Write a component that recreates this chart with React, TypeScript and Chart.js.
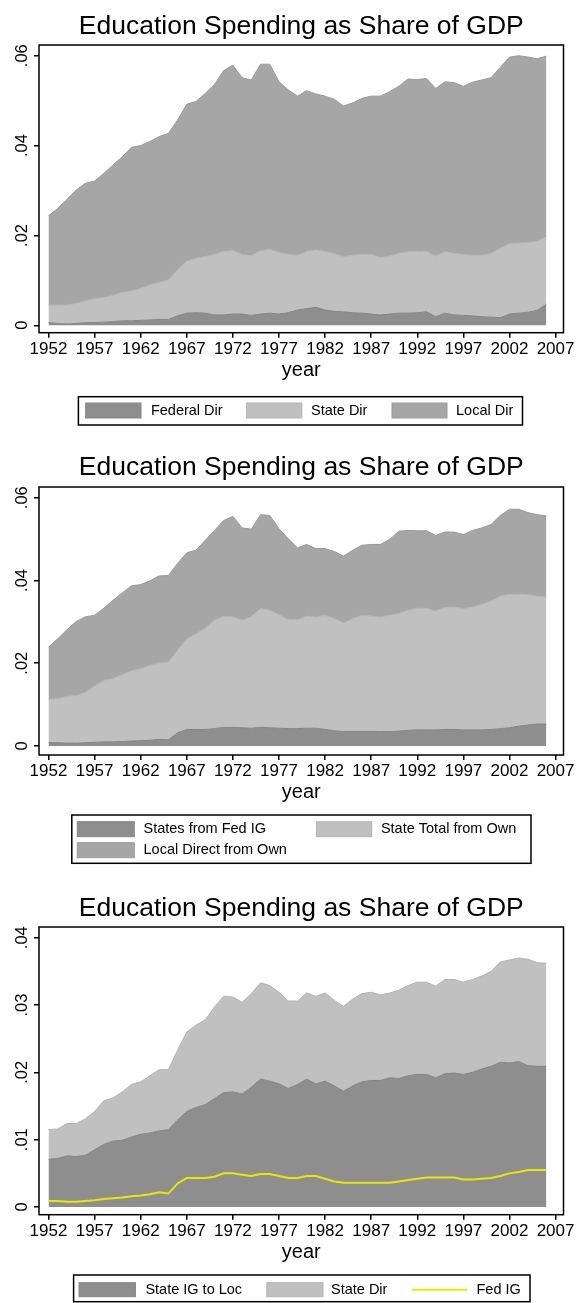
import React, { useEffect, useRef } from 'react';
import { Chart, registerables } from 'chart.js';

Chart.register(...registerables);

// ---------------- DATA ----------------
const years = [
  1952, 1953, 1954, 1955, 1956, 1957, 1958, 1959, 1960, 1961,
  1962, 1963, 1964, 1965, 1966, 1967, 1968, 1969, 1970, 1971,
  1972, 1973, 1974, 1975, 1976, 1977, 1978, 1979, 1980, 1981,
  1982, 1983, 1984, 1985, 1986, 1987, 1988, 1989, 1990, 1991,
  1992, 1993, 1994, 1995, 1996, 1997, 1998, 1999, 2000, 2001,
  2002, 2003, 2004, 2005, 2006,
];
const xTickLabels = [1952, 1957, 1962, 1967, 1972, 1977, 1982, 1987, 1992, 1997, 2002, 2007];
const yTicksTop = [0, 0.02, 0.04, 0.06];
const yTicksBottom = [0, 0.01, 0.02, 0.03, 0.04];

const chartTitle = 'Education Spending as Share of GDP';
const xAxisTitle = 'year';

// Chart 1
const federalDir = [
  0.0006, 0.0004, 0.0003, 0.0004, 0.0006, 0.0006, 0.0007, 0.0008, 0.0010, 0.0010,
  0.0011, 0.0012, 0.0013, 0.0013, 0.0021, 0.0027, 0.0028, 0.0027, 0.0023, 0.0023,
  0.0025, 0.0025, 0.0022, 0.0025, 0.0027, 0.0025, 0.0028, 0.0034, 0.0037, 0.0040,
  0.0034, 0.0031, 0.0030, 0.0028, 0.0027, 0.0025, 0.0023, 0.0025, 0.0027, 0.0027,
  0.0028, 0.0030, 0.0019, 0.0027, 0.0023, 0.0022, 0.0021, 0.0019, 0.0018, 0.0017,
  0.0025, 0.0027, 0.0029, 0.0033, 0.0047,
];
const stateDir = [
  0.0039, 0.0041, 0.0042, 0.0045, 0.0048, 0.0053, 0.0055, 0.0059, 0.0063, 0.0067,
  0.0071, 0.0078, 0.0082, 0.0088, 0.0102, 0.0116, 0.0121, 0.0126, 0.0135, 0.0142,
  0.0141, 0.0133, 0.0133, 0.0141, 0.0142, 0.0137, 0.0130, 0.0122, 0.0127, 0.0128,
  0.0130, 0.0128, 0.0123, 0.0128, 0.0131, 0.0133, 0.0128, 0.0129, 0.0133, 0.0137,
  0.0136, 0.0135, 0.0135, 0.0137, 0.0137, 0.0136, 0.0135, 0.0137, 0.0142, 0.0154,
  0.0157, 0.0156, 0.0155, 0.0154, 0.0150,
];
const localDir = [
  0.0199, 0.0215, 0.0235, 0.0252, 0.0262, 0.0262, 0.0276, 0.0290, 0.0302, 0.0319,
  0.0318, 0.0319, 0.0325, 0.0326, 0.0334, 0.0349, 0.0349, 0.0363, 0.0378, 0.0402,
  0.0413, 0.0393, 0.0391, 0.0415, 0.0412, 0.0380, 0.0366, 0.0354, 0.0358, 0.0347,
  0.0346, 0.0344, 0.0335, 0.0339, 0.0347, 0.0352, 0.0359, 0.0366, 0.0372, 0.0384,
  0.0383, 0.0384, 0.0373, 0.0378, 0.0380, 0.0374, 0.0385, 0.0390, 0.0391, 0.0403,
  0.0415, 0.0417, 0.0413, 0.0406, 0.0402,
];

// Chart 2
const statesFromFedIG = [
  0.0008, 0.0008, 0.0007, 0.0007, 0.0008, 0.0009, 0.0010, 0.0010, 0.0011, 0.0012,
  0.0013, 0.0014, 0.0016, 0.0015, 0.0032, 0.0040, 0.0040, 0.0040, 0.0042, 0.0045,
  0.0045, 0.0044, 0.0043, 0.0045, 0.0044, 0.0043, 0.0042, 0.0042, 0.0043, 0.0043,
  0.0040, 0.0037, 0.0035, 0.0035, 0.0035, 0.0035, 0.0035, 0.0035, 0.0036, 0.0038,
  0.0039, 0.0039, 0.0039, 0.0040, 0.0040, 0.0039, 0.0039, 0.0039, 0.0040, 0.0042,
  0.0044, 0.0048, 0.0051, 0.0053, 0.0053,
];
const stateTotalFromOwn = [
  0.0105, 0.0106, 0.0113, 0.0115, 0.0122, 0.0136, 0.0149, 0.0153, 0.0161, 0.0170,
  0.0174, 0.0181, 0.0185, 0.0188, 0.0199, 0.0219, 0.0231, 0.0245, 0.0262, 0.0268,
  0.0267, 0.0260, 0.0269, 0.0287, 0.0284, 0.0274, 0.0264, 0.0263, 0.0271, 0.0269,
  0.0276, 0.0271, 0.0262, 0.0273, 0.0281, 0.0279, 0.0277, 0.0281, 0.0284, 0.0290,
  0.0294, 0.0294, 0.0287, 0.0295, 0.0296, 0.0293, 0.0297, 0.0303, 0.0310, 0.0320,
  0.0323, 0.0319, 0.0315, 0.0309, 0.0307,
];
const localDirectFromOwn = [
  0.0126, 0.0145, 0.0161, 0.0179, 0.0182, 0.0171, 0.0174, 0.0189, 0.0198, 0.0205,
  0.0203, 0.0204, 0.0210, 0.0209, 0.0210, 0.0208, 0.0202, 0.0212, 0.0217, 0.0232,
  0.0243, 0.0223, 0.0212, 0.0227, 0.0229, 0.0208, 0.0195, 0.0174, 0.0173, 0.0165,
  0.0161, 0.0162, 0.0162, 0.0165, 0.0169, 0.0173, 0.0175, 0.0183, 0.0199, 0.0193,
  0.0187, 0.0187, 0.0183, 0.0182, 0.0181, 0.0179, 0.0185, 0.0185, 0.0185, 0.0195,
  0.0205, 0.0205, 0.0198, 0.0197, 0.0196,
];

// Chart 3
const stateIGtoLoc = [
  0.0071, 0.0072, 0.0076, 0.0075, 0.0077, 0.0085, 0.0093, 0.0098, 0.0099, 0.0104,
  0.0108, 0.0110, 0.0113, 0.0115, 0.0129, 0.0142, 0.0148, 0.0152, 0.0161, 0.0170,
  0.0171, 0.0168, 0.0178, 0.0190, 0.0187, 0.0183, 0.0176, 0.0182, 0.0190, 0.0183,
  0.0187, 0.0180, 0.0172, 0.0180, 0.0186, 0.0188, 0.0188, 0.0192, 0.0191, 0.0195,
  0.0197, 0.0197, 0.0192, 0.0198, 0.0199, 0.0197, 0.0200, 0.0205, 0.0209, 0.0215,
  0.0214, 0.0216, 0.0210, 0.0209, 0.0209,
];
const stateDirB = [
  0.0044, 0.0044, 0.0048, 0.0049, 0.0054, 0.0057, 0.0065, 0.0064, 0.0072, 0.0078,
  0.0078, 0.0085, 0.0091, 0.0089, 0.0104, 0.0118, 0.0122, 0.0126, 0.0136, 0.0143,
  0.0141, 0.0136, 0.0139, 0.0143, 0.0142, 0.0136, 0.0130, 0.0124, 0.0128, 0.0130,
  0.0131, 0.0127, 0.0126, 0.0129, 0.0131, 0.0131, 0.0127, 0.0126, 0.0131, 0.0134,
  0.0137, 0.0137, 0.0136, 0.0140, 0.0139, 0.0137, 0.0138, 0.0138, 0.0141, 0.0149,
  0.0153, 0.0154, 0.0158, 0.0154, 0.0153,
];
const fedIG = [
  0.0009, 0.0009, 0.0008, 0.0008, 0.0009, 0.0010, 0.0012, 0.0013, 0.0014, 0.0016,
  0.0017, 0.0019, 0.0022, 0.0020, 0.0035, 0.0043, 0.0043, 0.0043, 0.0045, 0.0050,
  0.0050, 0.0048, 0.0046, 0.0049, 0.0049, 0.0046, 0.0043, 0.0043, 0.0046, 0.0046,
  0.0042, 0.0038, 0.0036, 0.0036, 0.0036, 0.0036, 0.0036, 0.0036, 0.0038, 0.0040,
  0.0042, 0.0044, 0.0044, 0.0044, 0.0044, 0.0041, 0.0041, 0.0042, 0.0043, 0.0046,
  0.0050, 0.0052, 0.0055, 0.0055, 0.0055,
];

// ---------------- STYLE / LAYOUT ----------------
const FONT = '"Liberation Sans", Arial, Helvetica, sans-serif';
const W = 577;
const PLOT_LEFT = 39;
const PLOT_RIGHT = 563.5;
const X_MIN = 1950.97;
const X_MAX = 2007.86;
const X_AXIS_H = 49.4;
const TITLE_SIZE = 26.5;

const DARK = '#8e8e8e';
const DARK_EDGE = '#858585';
const LIGHT = '#c0c0c0';
const LIGHT_EDGE = '#b3b3b3';
const MID = '#a6a6a6';
const MID_EDGE = '#9a9a9a';
const YELLOW = '#e9e900';

const fmtY = (v: number) => (v === 0 ? '0' : v.toFixed(2).replace(/^0/, ''));

const boxPlugin = {
  id: 'plotBox',
  afterDatasetsDraw(chart: any) {
    const { ctx, chartArea: a } = chart;
    ctx.save();
    ctx.strokeStyle = '#000';
    ctx.lineWidth = 1.5;
    ctx.strokeRect(a.left, a.top, a.right - a.left, a.bottom - a.top);
    ctx.restore();
  },
};

const legendPlugin = {
  id: 'stataLegend',
  afterDraw(chart: any, _args: any, o: any) {
    const { ctx } = chart;
    const t = o.top;
    ctx.save();
    const [bx1, by1, bx2, by2] = o.box;
    ctx.fillStyle = '#fff';
    ctx.fillRect(bx1, by1 - t, bx2 - bx1, by2 - by1);
    ctx.strokeStyle = '#000';
    ctx.lineWidth = 1.5;
    ctx.strokeRect(bx1, by1 - t, bx2 - bx1, by2 - by1);
    ctx.font = `${o.fontSize}px ${FONT}`;
    ctx.textBaseline = 'middle';
    ctx.textAlign = 'left';
    for (const it of o.items) {
      const ds = chart.data.datasets[it.ds];
      const cy = (it.y1 + it.y2) / 2 - t;
      if (it.kind === 'line') {
        ctx.strokeStyle = ds.borderColor;
        ctx.lineWidth = 2;
        ctx.beginPath();
        ctx.moveTo(it.x1, cy);
        ctx.lineTo(it.x2, cy);
        ctx.stroke();
      } else {
        ctx.fillStyle = ds.backgroundColor;
        ctx.fillRect(it.x1, it.y1 - t, it.x2 - it.x1, it.y2 - it.y1);
        ctx.strokeStyle = ds.borderColor;
        ctx.lineWidth = 1;
        ctx.strokeRect(it.x1, it.y1 - t, it.x2 - it.x1, it.y2 - it.y1);
      }
      ctx.fillStyle = '#000';
      ctx.fillText(ds.label, it.tx, cy);
    }
    ctx.restore();
  },
};

type Series = { label: string; values: number[]; fill: string; edge: string; kind: 'area' | 'line' };

type Spec = {
  top: number;
  height: number;
  boxTop: number;
  boxBottom: number;
  titleCenter: number;
  yMin: number;
  yMax: number;
  yTicks: number[];
  series: Series[];
  legend: any;
};

const specs: Spec[] = [
  {
    top: 0,
    height: 432,
    boxTop: 45,
    boxBottom: 332.7,
    titleCenter: 26.8,
    yMin: -0.00165,
    yMax: 0.06238,
    yTicks: yTicksTop,
    series: [
      { label: 'Federal Dir', values: federalDir, fill: DARK, edge: DARK_EDGE, kind: 'area' },
      { label: 'State Dir', values: stateDir, fill: LIGHT, edge: LIGHT_EDGE, kind: 'area' },
      { label: 'Local Dir', values: localDir, fill: MID, edge: MID_EDGE, kind: 'area' },
    ],
    legend: {
      box: [78.4, 396.7, 522.5, 425],
      fontSize: 14.5,
      items: [
        { ds: 0, kind: 'box', x1: 85.7, x2: 141, y1: 403, y2: 418, tx: 150.9 },
        { ds: 1, kind: 'box', x1: 246.6, x2: 301.8, y1: 403, y2: 418, tx: 311 },
        { ds: 2, kind: 'box', x1: 392, x2: 447, y1: 403, y2: 418, tx: 456 },
      ],
    },
  },
  {
    top: 432,
    height: 436,
    boxTop: 487,
    boxBottom: 755,
    titleCenter: 467.5,
    yMin: -0.00217,
    yMax: 0.06258,
    yTicks: yTicksTop,
    series: [
      { label: 'States from Fed IG', values: statesFromFedIG, fill: DARK, edge: DARK_EDGE, kind: 'area' },
      { label: 'State Total from Own', values: stateTotalFromOwn, fill: LIGHT, edge: LIGHT_EDGE, kind: 'area' },
      { label: 'Local Direct from Own', values: localDirectFromOwn, fill: MID, edge: MID_EDGE, kind: 'area' },
    ],
    legend: {
      box: [71.8, 815, 531, 863.3],
      fontSize: 14.5,
      items: [
        { ds: 0, kind: 'box', x1: 77.3, x2: 134.3, y1: 821.7, y2: 836.7, tx: 143.5 },
        { ds: 1, kind: 'box', x1: 316.5, x2: 371.7, y1: 821.7, y2: 836.7, tx: 380.9 },
        { ds: 2, kind: 'box', x1: 77.3, x2: 134.3, y1: 842.7, y2: 857.7, tx: 143.5 },
      ],
    },
  },
  {
    top: 868,
    height: 435,
    boxTop: 927,
    boxBottom: 1214.7,
    titleCenter: 908.3,
    yMin: -0.00114,
    yMax: 0.04159,
    yTicks: yTicksBottom,
    series: [
      { label: 'State IG to Loc', values: stateIGtoLoc, fill: DARK, edge: DARK_EDGE, kind: 'area' },
      { label: 'State Dir', values: stateDirB, fill: LIGHT, edge: LIGHT_EDGE, kind: 'area' },
      { label: 'Fed IG', values: fedIG, fill: YELLOW, edge: YELLOW, kind: 'line' },
    ],
    legend: {
      box: [73.6, 1275, 530, 1301.7],
      fontSize: 14.5,
      items: [
        { ds: 0, kind: 'box', x1: 79, x2: 135.4, y1: 1282.7, y2: 1296.7, tx: 145.4 },
        { ds: 1, kind: 'box', x1: 266.8, x2: 323, y1: 1282.7, y2: 1296.7, tx: 331 },
        { ds: 2, kind: 'line', x1: 412, x2: 467.3, y1: 1282.7, y2: 1296.7, tx: 476.5 },
      ],
    },
  },
];

function buildConfig(spec: Spec): any {
  const titleLH = TITLE_SIZE * 1.2;
  const titleTopPad = spec.titleCenter - spec.top - titleLH / 2;
  const titleBottomPad = spec.boxTop - spec.top - titleTopPad - titleLH;
  const padBottom = spec.height - (spec.boxBottom - spec.top) - X_AXIS_H;

  let areaIndex = 0;
  const datasets = spec.series.map((s) => {
    const data = years.map((yr, i) => ({ x: yr, y: s.values[i] }));
    if (s.kind === 'line') {
      return {
        label: s.label,
        data,
        stack: 'line',
        order: 0,
        fill: false,
        borderColor: s.fill,
        backgroundColor: s.fill,
        borderWidth: 2,
        pointRadius: 0,
        tension: 0,
      };
    }
    const fill = areaIndex === 0 ? 'origin' : '-1';
    areaIndex += 1;
    return {
      label: s.label,
      data,
      stack: 'areas',
      order: 1,
      fill,
      backgroundColor: s.fill,
      borderColor: s.edge,
      borderWidth: 1,
      pointRadius: 0,
      tension: 0,
    };
  });

  return {
    type: 'line',
    data: { datasets },
    plugins: [boxPlugin, legendPlugin],
    options: {
      responsive: false,
      animation: false,
      devicePixelRatio: 1,
      layout: { padding: { left: 0, right: W - PLOT_RIGHT, top: 0, bottom: padBottom } },
      plugins: {
        legend: { display: false },
        tooltip: { enabled: false },
        title: {
          display: true,
          text: chartTitle,
          fullSize: false,
          color: '#000',
          font: { family: FONT, size: TITLE_SIZE, weight: 'normal', lineHeight: 1.2 },
          padding: { top: titleTopPad, bottom: titleBottomPad },
        },
        stataLegend: { ...spec.legend, top: spec.top },
      },
      scales: {
        x: {
          type: 'linear',
          min: X_MIN,
          max: X_MAX,
          afterBuildTicks: (s: any) => {
            s.ticks = xTickLabels.map((v) => ({ value: v }));
          },
          afterFit: (s: any) => {
            s.height = X_AXIS_H;
          },
          grid: { display: true, drawOnChartArea: false, drawTicks: true, tickLength: 5, color: '#000', lineWidth: 1.5 },
          border: { display: false },
          ticks: {
            autoSkip: false,
            maxRotation: 0,
            minRotation: 0,
            padding: 1,
            color: '#000',
            font: { family: FONT, size: 17 },
            callback: (v: any) => String(v),
          },
          title: {
            display: true,
            text: xAxisTitle,
            color: '#000',
            font: { family: FONT, size: 20, lineHeight: 1.2 },
            padding: { top: 0, bottom: 0 },
          },
        },
        y: {
          type: 'linear',
          stacked: true,
          min: spec.yMin,
          max: spec.yMax,
          afterBuildTicks: (s: any) => {
            s.ticks = spec.yTicks.map((v) => ({ value: v }));
          },
          afterFit: (s: any) => {
            s.width = PLOT_LEFT;
          },
          grid: { display: true, drawOnChartArea: false, drawTicks: true, tickLength: 5, color: '#000', lineWidth: 1.5 },
          border: { display: false },
          ticks: {
            autoSkip: false,
            minRotation: 90,
            maxRotation: 90,
            crossAlign: 'center',
            padding: 0,
            color: '#000',
            font: { family: FONT, size: 16.5 },
            callback: (v: any) => fmtY(Number(v)),
          },
        },
      },
    },
  };
}

function StataChart({ spec }: { spec: Spec }) {
  const ref = useRef<HTMLCanvasElement | null>(null);
  useEffect(() => {
    if (!ref.current) return;
    const chart = new Chart(ref.current, buildConfig(spec));
    return () => chart.destroy();
  }, [spec]);
  return (
    <canvas
      ref={ref}
      width={W}
      height={spec.height}
      style={{ position: 'absolute', left: 0, top: spec.top, width: W, height: spec.height, display: 'block' }}
    />
  );
}

export default function App() {
  return (
    <div style={{ position: 'absolute', left: 0, top: 0, width: W, height: 1303, background: '#fff' }}>
      {specs.map((s, i) => (
        <StataChart key={i} spec={s} />
      ))}
    </div>
  );
}
